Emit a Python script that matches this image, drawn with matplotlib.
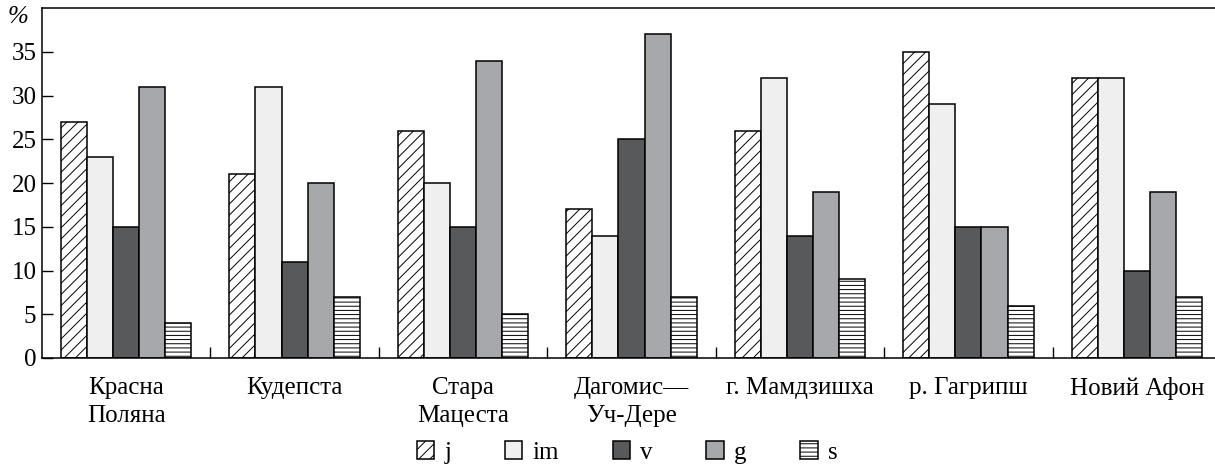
import matplotlib.pyplot as plt
import numpy as np

plt.rcParams['font.family'] = ['Liberation Serif', 'DejaVu Serif']
plt.rcParams['hatch.linewidth'] = 0.7

sites = ['Красна\nПоляна', 'Кудепста', 'Стара\nМацеста', 'Дагомис—\nУч-Дере',
         'г. Мамдзишха', 'р. Гагрипш', 'Новий Афон']
j_vals = [27, 21, 26, 17, 26, 35, 32]
im_vals = [23, 31, 20, 14, 32, 29, 32]
v_vals = [15, 11, 15, 25, 14, 15, 10]
g_vals = [31, 20, 34, 37, 19, 15, 19]
s_vals = [4, 7, 5, 7, 9, 6, 7]

series = [('j', j_vals, 'white', '///'),
          ('im', im_vals, '#efefef', None),
          ('v', v_vals, '#58595b', None),
          ('g', g_vals, '#a7a8ab', None),
          ('s', s_vals, 'white', '----')]

fig = plt.figure(figsize=(12.15, 4.72), dpi=100)
ax = fig.add_axes([42/1215, 114/472, 1179/1215, 350/472])

x = np.arange(len(sites))
w = 0.155
for i, (name, vals, col, hatch) in enumerate(series):
    ax.bar(x + (i - 2) * w, vals, w, color=col, edgecolor='black',
           linewidth=1.1, hatch=hatch, label=name)

ax.set_xlim(-0.5, 6.5)
ax.set_ylim(0, 40)
ax.set_yticks(range(0, 40, 5))
ax.set_xticks(x)
ax.set_xticklabels(sites, fontsize=18, linespacing=1.3)
ax.set_xticks(x[:-1] + 0.5, minor=True)
ax.tick_params(axis='x', which='major', length=0, pad=14)
ax.tick_params(axis='x', which='minor', direction='in', length=8, width=1)
ax.tick_params(axis='y', direction='in', length=8, width=1, labelsize=18, pad=4)
ax.spines['right'].set_visible(False)
for sp in ['left', 'top', 'bottom']:
    ax.spines[sp].set_linewidth(1.1)

fig.text(8/1215, 1 - 17/472, '%', ha='left', va='center', fontsize=18,
         style='italic')

ax.legend(loc='center', bbox_to_anchor=((627 - 42)/1179, -0.27), ncol=5,
          frameon=False, fontsize=18, handlelength=0.7, handleheight=0.7,
          handletextpad=0.4, columnspacing=2.15)

fig.savefig('out.png', dpi=100)
